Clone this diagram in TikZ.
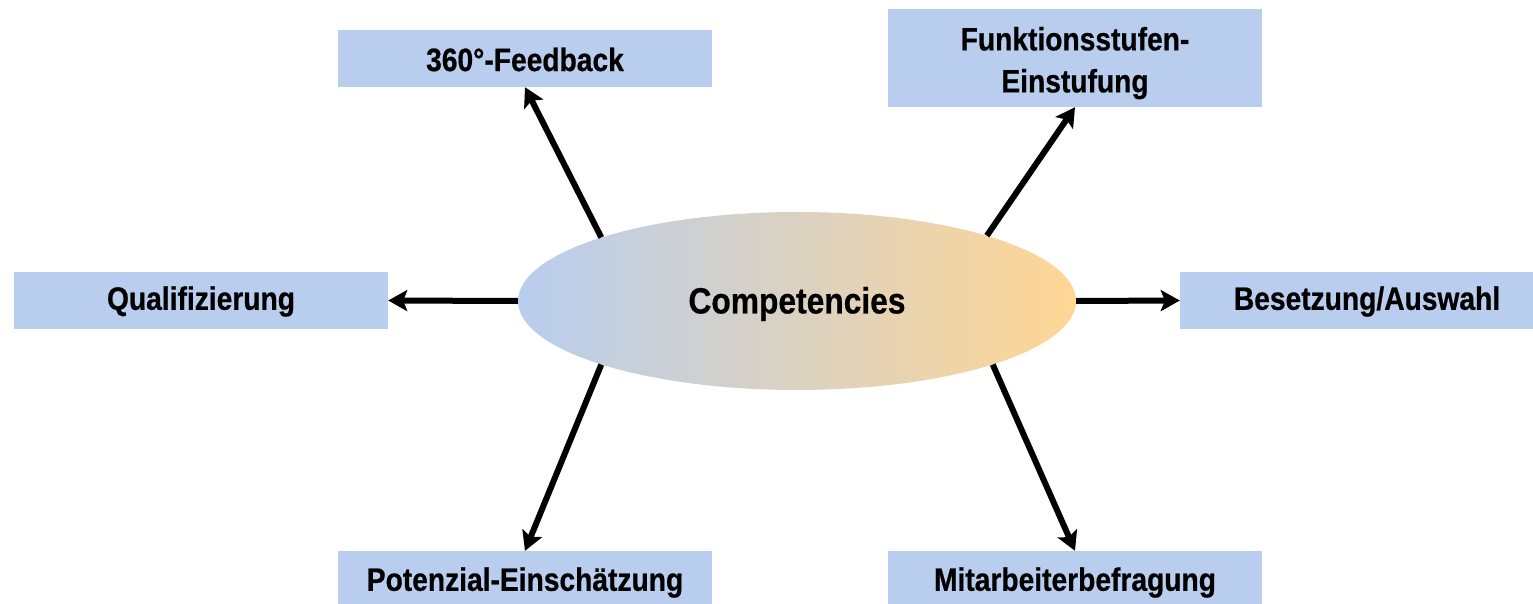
\documentclass[tikz,border=0pt]{standalone}
\usepackage{fontspec}
\setmainfont{Liberation Sans}[FakeStretch=0.87, BoldFeatures={FakeBold=0.6}]
\usetikzlibrary{arrows.meta,shapes.geometric}
\definecolor{boxblue}{RGB}{185,206,238}
\definecolor{ellblue}{RGB}{184,205,238}
\definecolor{ellorange}{RGB}{255,214,148}
\tikzset{
  box/.style={rectangle, fill=boxblue, inner sep=0pt, minimum width=374pt, minimum height=57pt, align=center, font=\fontsize{32.4}{42}\selectfont\bfseries},
  conn/.style={line width=6pt, -{Stealth[length=19pt,width=21pt,inset=4pt]}}
}
\newcommand{\lowered}[2]{\raisebox{-#1}[\height][\depth]{#2}}
\begin{document}
\begin{tikzpicture}[x=1pt,y=-1pt]
\useasboundingbox (0,0) rectangle (1533,604);
\clip (0,0) rectangle (1533,604);
\node[ellipse, inner sep=0pt, minimum width=558pt, minimum height=178pt, left color=ellblue, right color=ellorange, font=\fontsize{36.5}{40}\selectfont\bfseries] (c) at (797,301) {\lowered{3pt}{Competencies}};
\node[box] (fb) at (525,58.5) {\lowered{1pt}{360°-Feedback}};
\node[box, minimum height=98pt] (fk) at (1075,58) {\lowered{5pt}{\begin{tabular}{@{}c@{}}Funktionsstufen-\\Einstufung\end{tabular}}};
\node[box] (q) at (201,300.5) {\lowered{1pt}{Qualifizierung}};
\node[box] (b) at (1367,300.5) {\lowered{1pt}{Besetzung/Auswahl}};
\node[box] (pe) at (525,579.5) {\lowered{3pt}{Potenzial-Einschätzung}};
\node[box] (mb) at (1075,579.5) {\lowered{3pt}{Mitarbeiterbefragung}};
\draw[conn] (c.162.3) -- (fb.south);
\draw[conn] (c.19) -- (fk.south);
\draw[conn] (c.west) -- (q.east);
\draw[conn] (c.east) -- (b.west);
\draw[conn] (c.198) -- (pe.north);
\draw[conn] (c.-18) -- (mb.north);
\end{tikzpicture}
\end{document}
